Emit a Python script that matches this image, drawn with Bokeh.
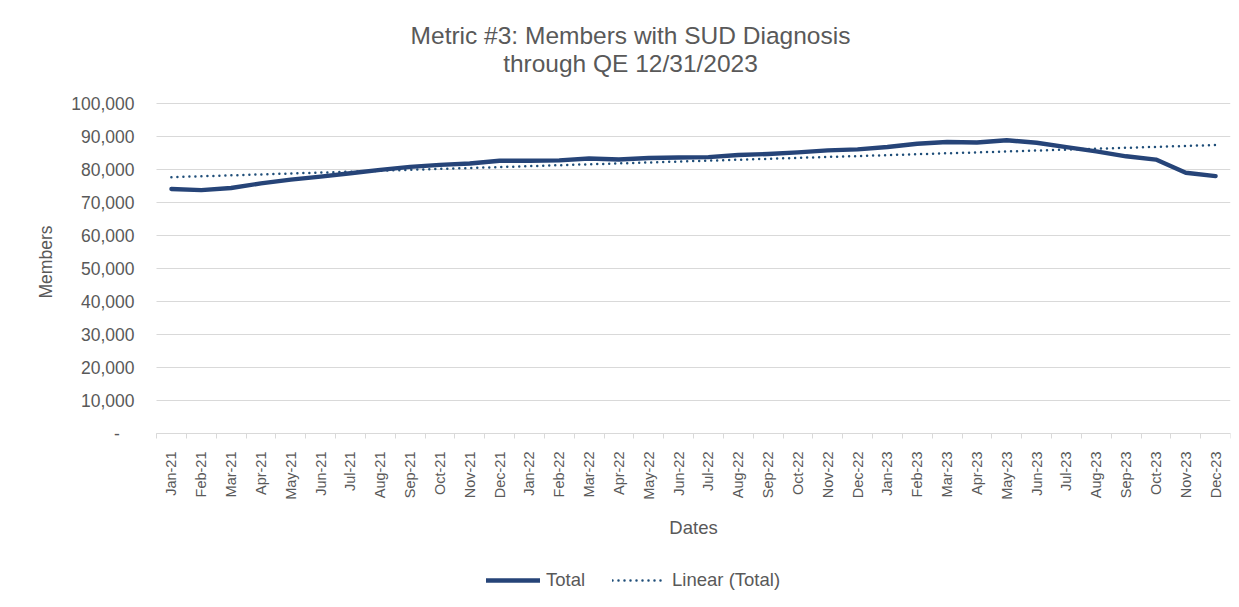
import numpy as np
from bokeh.plotting import figure
from bokeh.models import (FixedTicker, Label, Legend, LegendItem, Grid,
                          CustomJSTickFormatter, Range1d)
from bokeh.embed import file_html
from bokeh.resources import INLINE

# ---------------- data ----------------
months = ["Jan-21", "Feb-21", "Mar-21", "Apr-21", "May-21", "Jun-21",
          "Jul-21", "Aug-21", "Sep-21", "Oct-21", "Nov-21", "Dec-21",
          "Jan-22", "Feb-22", "Mar-22", "Apr-22", "May-22", "Jun-22",
          "Jul-22", "Aug-22", "Sep-22", "Oct-22", "Nov-22", "Dec-22",
          "Jan-23", "Feb-23", "Mar-23", "Apr-23", "May-23", "Jun-23",
          "Jul-23", "Aug-23", "Sep-23", "Oct-23", "Nov-23", "Dec-23"]
members = [74100, 73750, 74400, 75800, 76950, 77850,
           78850, 79900, 80800, 81400, 81800, 82650,
           82650, 82750, 83350, 83050, 83500, 83650,
           83750, 84400, 84700, 85200, 85800, 86100,
           86800, 87800, 88350, 88200, 88850, 88100,
           86800, 85500, 84000, 83000, 79000, 78000]
y_ticks = [0, 10000, 20000, 30000, 40000, 50000, 60000, 70000, 80000, 90000, 100000]
title_lines = ["Metric #3: Members with SUD Diagnosis", "through QE 12/31/2023"]
series_names = ["Total", "Linear (Total)"]
x_title = "Dates"
y_title = "Members"

# ---------------- derived ----------------
n = len(months)
x = np.arange(n) + 0.5
coef = np.polyfit(x, np.array(members, dtype=float), 1)
trend = np.polyval(coef, x)

FONT = "Liberation Sans"
TXT = "#595959"
GRID = "#d9d9d9"
LINE = "#264478"

W, H = 1239, 607
LEFT, RIGHT = 156, 1230        # pixel columns of the category band edges
TOP, BOT = 103, 433            # pixel rows of 100,000 and 0
px_x = (RIGHT - LEFT) / n
px_y = (BOT - TOP) / 100000.0

p = figure(width=W, height=H,
           x_range=Range1d(-LEFT / px_x, n),
           y_range=Range1d(-(H - BOT) / px_y, 100000 + TOP / px_y),
           output_backend="svg", toolbar_location=None,
           min_border_left=0, min_border_right=W - RIGHT,
           min_border_top=0, min_border_bottom=0)
p.outline_line_color = None
p.background_fill_color = "white"
p.border_fill_color = "white"

# grid lines limited to the plot band
if "cross_bounds" in Grid.properties():
    p.ygrid.ticker = FixedTicker(ticks=y_ticks)
    p.ygrid.cross_bounds = (0, n)
    p.ygrid.grid_line_color = GRID
    p.ygrid.grid_line_width = 1
else:
    p.ygrid.visible = False
    p.segment(x0=[0] * len(y_ticks), x1=[n] * len(y_ticks), y0=y_ticks, y1=y_ticks,
              line_color=GRID, line_width=1)
p.xgrid.visible = False

r_trend = p.line(x, trend, line_color="#1f4e79", line_width=2.5,
                 line_dash="0 6", line_cap="round")
r_total = p.line(x, members, line_color=LINE, line_width=4.4,
                 line_cap="round", line_join="round")

# x axis, pinned at y = 0
xa = p.xaxis[0]
xa.fixed_location = 0
xa.bounds = (0, n)
xa.ticker = FixedTicker(ticks=list(x), minor_ticks=list(range(n + 1)))
xa.formatter = CustomJSTickFormatter(args=dict(months=months),
                                     code="return months[Math.floor(tick)];")
xa.major_label_orientation = np.pi / 2
xa.major_tick_line_color = None
xa.major_tick_out = 0
xa.major_tick_in = 0
xa.minor_tick_line_color = GRID
xa.minor_tick_out = 5
xa.minor_tick_in = 0
xa.axis_line_color = GRID
xa.major_label_standoff = 13
xa.major_label_text_font = FONT
xa.major_label_text_font_size = "14.5px"
xa.major_label_text_color = TXT

# y axis, pinned at x = 0
ya = p.yaxis[0]
ya.fixed_location = 0
ya.bounds = (0, 100000)
ya.ticker = FixedTicker(ticks=y_ticks)
ya.formatter = CustomJSTickFormatter(
    code="return tick == 0 ? '-\u00a0\u00a0\u00a0' : tick.toLocaleString('en-US');")
ya.axis_line_color = None
ya.major_tick_line_color = None
ya.minor_tick_line_color = None
ya.major_tick_out = 0
ya.major_label_standoff = 22
ya.major_label_text_font = FONT
ya.major_label_text_font_size = "17.5px"
ya.major_label_text_color = TXT

# texts (screen units relative to the frame's lower-left corner)
for txt, yy in zip(title_lines, [H - 35, H - 63]):
    p.add_layout(Label(x=630, y=yy, x_units="screen", y_units="screen",
                       text=txt, text_align="center", text_baseline="middle",
                       text_font=FONT, text_font_size="24.5px", text_color=TXT,
                       level="overlay"))
p.add_layout(Label(x=693, y=H - 526.5, x_units="screen", y_units="screen",
                   text=x_title, text_align="center", text_baseline="middle",
                   text_font=FONT, text_font_size="18.5px", text_color=TXT,
                   level="overlay"))
p.add_layout(Label(x=45, y=H - 261.5, x_units="screen", y_units="screen",
                   text=y_title, angle=np.pi / 2,
                   text_align="center", text_baseline="middle",
                   text_font=FONT, text_font_size="17.5px", text_color=TXT,
                   level="overlay"))

legend = Legend(items=[LegendItem(label=series_names[0], renderers=[r_total]),
                       LegendItem(label=series_names[1], renderers=[r_trend])],
                location=(486, 16), orientation="horizontal",
                glyph_width=54, glyph_height=20, label_height=20,
                label_standoff=6, spacing=27, padding=0, margin=0,
                border_line_color=None, background_fill_alpha=0,
                label_text_font=FONT, label_text_font_size="18.5px",
                label_text_color=TXT, level="overlay")
p.add_layout(legend)

open("out.html", "w").write(file_html(p, INLINE))
